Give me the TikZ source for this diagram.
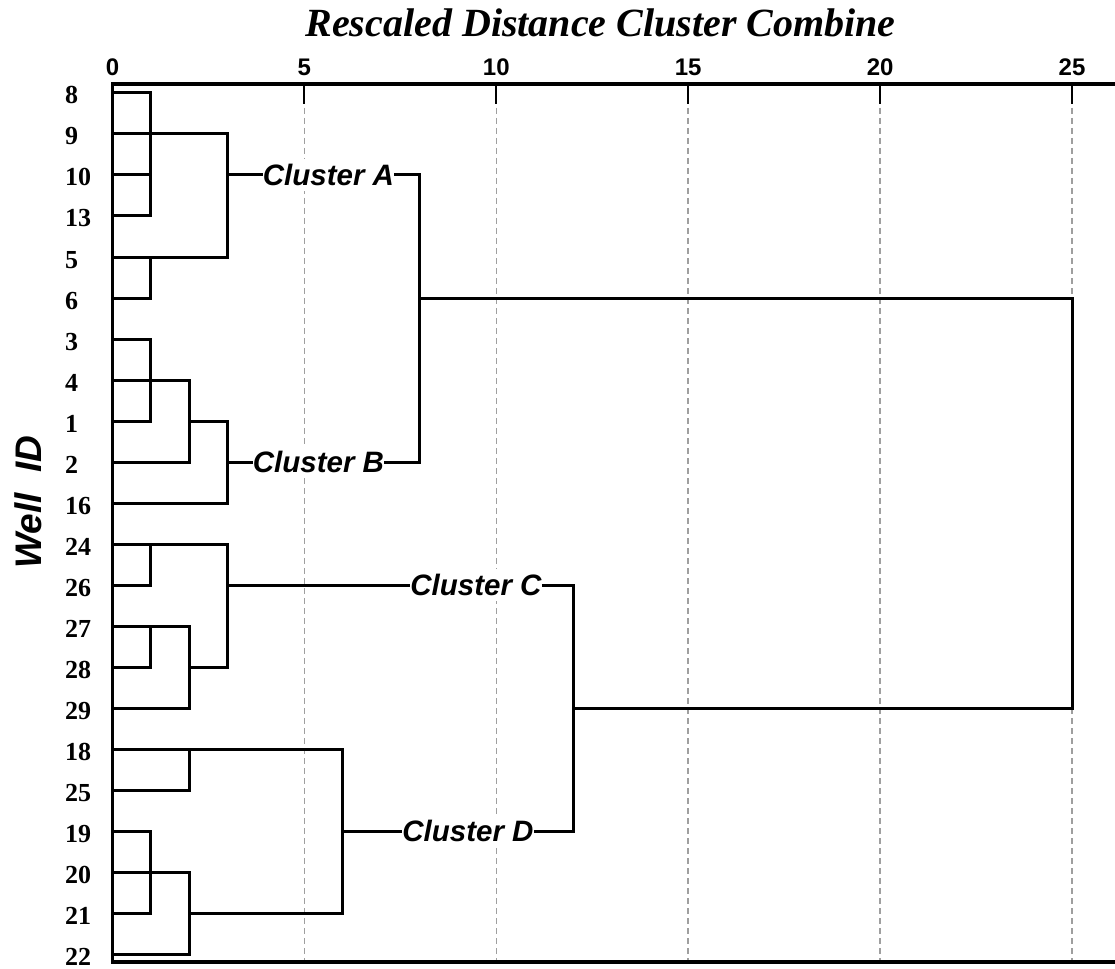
\documentclass[tikz,border=0pt]{standalone}
\usepackage{fontspec}
\setmainfont{Liberation Serif}
\newfontfamily\arialf{Liberation Sans}
\begin{document}
\begin{tikzpicture}[x=1pt,y=-1pt,
  dend/.style={line width=3pt, line join=miter},
  gridl/.style={gray!75, line width=1.6pt, dash pattern=on 6pt off 4pt},
  tickl/.style={line width=2pt},
  axisl/.style={line width=3.2pt},
  clab/.style={font=\arialf\bfseries\itshape\fontsize{29.5}{34}\selectfont, fill=white, inner xsep=0pt, inner ysep=5pt},
  leaf/.style={font=\bfseries\fontsize{26}{30}\selectfont, anchor=base west, inner sep=0pt},
  axnum/.style={font=\arialf\bfseries\fontsize{24}{28}\selectfont, anchor=base, inner sep=0pt}]
\useasboundingbox (0,0) rectangle (1115,968);

% titles
\node[font=\bfseries\itshape\fontsize{40}{48}\selectfont, anchor=base, inner sep=0pt] (title) at (600.5,37) {Rescaled Distance Cluster Combine};
\node[font=\arialf\bfseries\itshape\fontsize{37}{44}\selectfont, rotate=90, inner sep=0pt] (wellid) at (28.5,502) {Well\ \ ID};

% leaf labels
\foreach \n [count=\i from 0] in {8,9,10,13,5,6,3,4,1,2,16,24,26,27,28,29,18,25,19,20,21,22}
  \node[leaf] (w\n) at (65,{93+41*\i+11}) {\n};

\begin{scope}[xshift=112.5pt, x=38.38pt]
  % grid and ticks
  \node[axnum] (ax0) at (0,76) {0};
  \foreach \u in {5,10,15,20,25} {
    \draw[tickl] (\u,84) -- (\u,104);
    \draw[gridl] (\u,108) -- (\u,961);
    \node[axnum] (ax\u) at (\u,76) {\u};
  }
  \draw[axisl] (26.5,84) -| (0,962) -- (26.5,962);
\end{scope}

% cluster labels
\node[clab] (cA) at (328.5,175) {Cluster A};
\node[clab] (cB) at (318.5,462) {Cluster B};
\node[clab] (cC) at (476,585) {Cluster C};
\node[clab] (cD) at (468,831) {Cluster D};

\begin{scope}[xshift=112.5pt, x=38.38pt]
  % Cluster A
  \draw[dend] (0,93) -| (1,216) -- (0,216);
  \draw[dend] (0,175) -- (1,175);
  \draw[dend] (0,134) -| (3,257) -- (0,257);
  \draw[dend] (0,298) -| (1,257);
  \draw[dend] (3,175) -- (cA.west);
  \draw[dend] (cA.east) -| (8,462) -- (cB.east);
  \draw[dend] (8,298) -| (25,708) -- (12,708);
  % Cluster B
  \draw[dend] (0,339) -| (1,421) -- (0,421);
  \draw[dend] (0,380) -| (2,462) -- (0,462);
  \draw[dend] (2,421) -| (3,503) -- (0,503);
  \draw[dend] (3,462) -- (cB.west);
  % Cluster C
  \draw[dend] (0,544) -| (3,667) -- (2,667);
  \draw[dend] (1,544) |- (0,585);
  \draw[dend] (0,626) -| (2,708) -- (0,708);
  \draw[dend] (1,626) |- (0,667);
  \draw[dend] (3,585) -- (cC.west);
  \draw[dend] (cC.east) -| (12,831) -- (cD.east);
  % Cluster D
  \draw[dend] (0,749) -| (6,913) -- (2,913);
  \draw[dend] (2,749) |- (0,790);
  \draw[dend] (0,831) -| (1,913) -- (0,913);
  \draw[dend] (0,872) -| (2,954) -- (0,954);
  \draw[dend] (6,831) -- (cD.west);
\end{scope}
\end{tikzpicture}
\end{document}
